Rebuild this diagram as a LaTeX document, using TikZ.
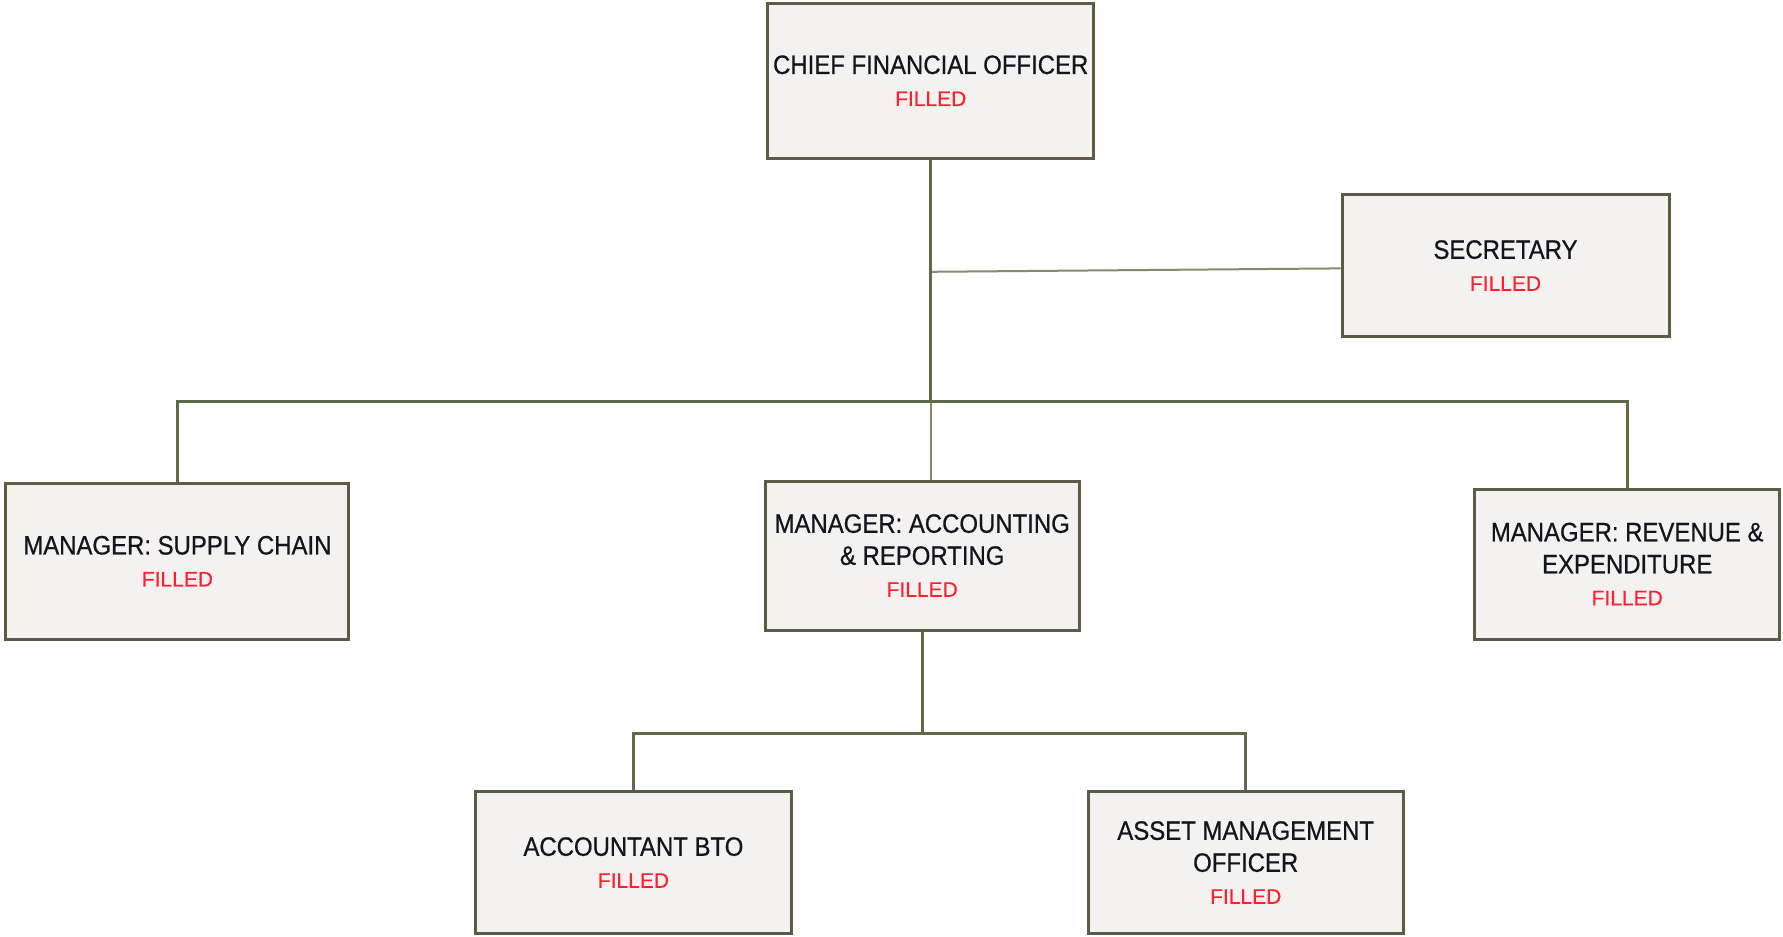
\documentclass[tikz,border=0pt]{standalone}
\usepackage{fontspec}
\setmainfont{Liberation Sans}
\newfontfamily\boxfont[FakeStretch=0.9,FakeBold=0.6]{Liberation Sans}
\newfontfamily\statusfont[FakeBold=0.4]{Liberation Sans}
\usetikzlibrary{calc}

\definecolor{boxline}{HTML}{5D5A45}
\definecolor{boxfill}{HTML}{F3F2F0}
\definecolor{linkcol}{HTML}{5E6B48}
\definecolor{linklight}{HTML}{7F8E6B}
\definecolor{fillred}{HTML}{FF1F2D}
\definecolor{titleink}{HTML}{14141E}

\newcommand{\status}{{\color{fillred}\statusfont\fontsize{21}{32}\selectfont FILLED}}

\tikzset{
  post/.style={rectangle, draw=boxline, line width=3pt, fill=boxfill,
    inner sep=0pt, align=center, text=titleink,
    font=\boxfont\fontsize{26.6}{32}\selectfont},
  link/.style={draw=linkcol, line width=2.6pt},
  thinlink/.style={draw=linklight, line width=2pt},
}

\begin{document}
\begin{tikzpicture}[x=1pt,y=-1pt]
  \fill[white] (0,0) rectangle (1783,937);
  \useasboundingbox (0,0) rectangle (1783,937);

  % positions
  \node[post, minimum width=326pt, minimum height=155pt] (cfo) at (930.7,80.7)
    {CHIEF FINANCIAL OFFICER\\\status};
  \node[post, minimum width=327pt, minimum height=142pt] (sec) at (1505.5,265.5)
    {SECRETARY\\\status};
  \node[post, minimum width=343pt, minimum height=156pt] (supply) at (177.4,561.2)
    {MANAGER: SUPPLY CHAIN\\\status};
  \node[post, minimum width=314pt, minimum height=149pt] (acc) at (922.2,555.5)
    {MANAGER: ACCOUNTING\\\& REPORTING\\\status};
  \node[post, minimum width=305pt, minimum height=150pt] (rev) at (1627.2,564)
    {MANAGER: REVENUE \&\\EXPENDITURE\\\status};
  \node[post, minimum width=316pt, minimum height=142pt] (bto) at (633.4,862.5)
    {ACCOUNTANT BTO\\\status};
  \node[post, minimum width=315pt, minimum height=142pt] (asset) at (1245.7,862.5)
    {ASSET MANAGEMENT\\OFFICER\\\status};

  % junction points
  \coordinate (hub) at (cfo.south |- 0,401.4);
  \coordinate (secjoin) at (cfo.south |- 0,271.8);
  \coordinate (acchub) at (acc.south |- 0,733.4);

  % connectors
  \draw[thinlink] (secjoin) -- ([yshift=-2.9pt]sec.west);
  \draw[thinlink] (hub) -- (hub |- acc.north);
  \draw[link] (cfo.south) -- (hub);
  \draw[link] (supply.north) |- (hub) -| (rev.north);
  \draw[link] (acc.south) -- (acchub);
  \draw[link] (bto.north) |- (acchub) -| (asset.north);
\end{tikzpicture}
\end{document}
